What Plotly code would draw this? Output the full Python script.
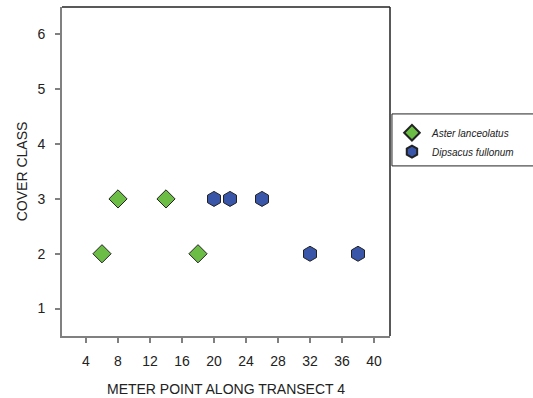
import plotly.graph_objects as go

aster_x = [6, 8, 14, 18]
aster_y = [2, 3, 3, 2]
dips_x = [20, 22, 26, 32, 38]
dips_y = [3, 3, 3, 2, 2]
x_ticks = [4, 8, 12, 16, 20, 24, 28, 32, 36, 40]
y_ticks = [1, 2, 3, 4, 5, 6]

fig = go.Figure()
fig.add_trace(go.Scatter(
    x=aster_x, y=aster_y, mode="markers", name="Aster lanceolatus",
    marker=dict(symbol="diamond", size=14, color="#6CBD45",
                line=dict(color="#222222", width=1)),
))
fig.add_trace(go.Scatter(
    x=dips_x, y=dips_y, mode="markers", name="Dipsacus fullonum",
    marker=dict(symbol="hexagon", size=15, color="#3A56A8",
                line=dict(color="#222222", width=1)),
))

axis_font = dict(family="Liberation Sans, Arial", size=14, color="#222222")
fig.update_layout(
    width=533, height=398,
    margin=dict(l=62, r=143, t=7, b=62, autoexpand=False),
    paper_bgcolor="white", plot_bgcolor="white",
    font=dict(family="Liberation Sans, Arial", color="#222222"),
    xaxis=dict(range=[1, 42], tickvals=x_ticks, ticks="outside", ticklen=5,
               tickcolor="#808080", tickwidth=1.5, ticklabelstandoff=6,
               showline=True, linecolor="#808080", linewidth=2,
               showgrid=False, zeroline=False, tickfont=axis_font,
               title=dict(text="METER POINT ALONG TRANSECT 4", font=axis_font, standoff=16)),
    yaxis=dict(range=[0.5, 6.5], tickvals=y_ticks, ticks="outside", ticklen=5,
               tickcolor="#808080", tickwidth=1.5, ticklabelstandoff=7,
               showline=True, linecolor="#808080", linewidth=2,
               showgrid=False, zeroline=False, tickfont=axis_font,
               title=dict(text="COVER CLASS", font=axis_font, standoff=7)),
    legend=dict(x=1.006, y=0.662, xanchor="left", yanchor="top",
                borderwidth=0, bgcolor="rgba(0,0,0,0)",
                font=dict(family="Liberation Sans, Arial", size=10, color="#222222", style="italic"),
                tracegroupgap=0, itemsizing="constant"),
    shapes=[
        dict(type="line", xref="paper", yref="paper", x0=0, x1=1, y0=1, y1=1,
             line=dict(color="#222222", width=1.5)),
        dict(type="line", xref="paper", yref="paper", x0=1, x1=1, y0=0, y1=1,
             line=dict(color="#222222", width=1.5)),
        dict(type="rect", xref="paper", yref="paper", x0=1.006, x1=1.46, y0=0.517, y1=0.675,
             line=dict(color="#222222", width=1), fillcolor="rgba(0,0,0,0)"),
    ],
)
fig.write_html("out.html", config={"displayModeBar": False},
               post_script="document.body.style.margin='0px';")
